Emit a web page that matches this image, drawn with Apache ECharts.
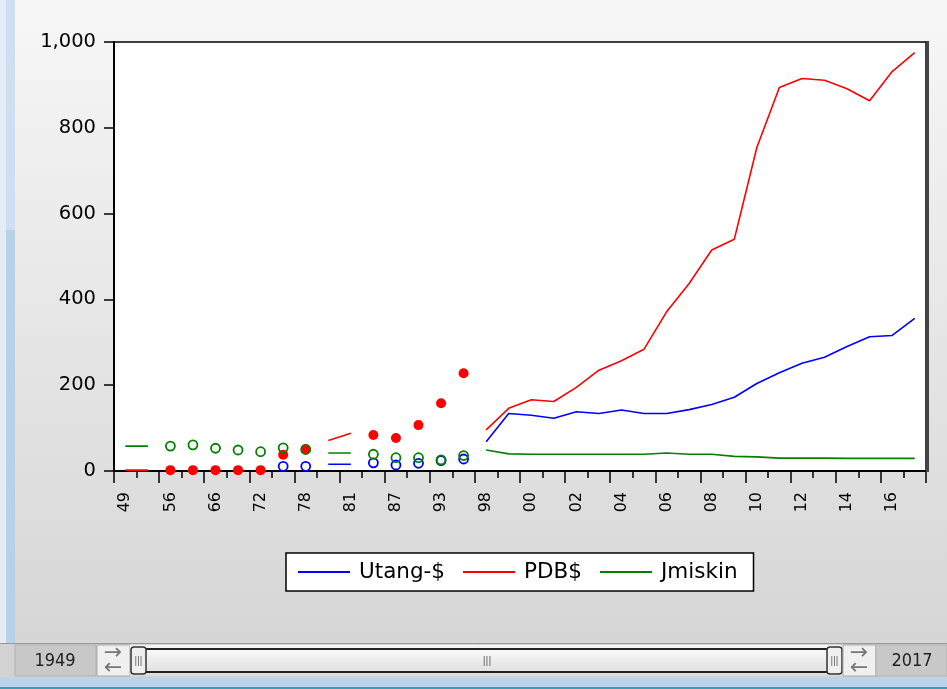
<!DOCTYPE html>
<html><head><meta charset="utf-8">
<script src="https://cdn.jsdelivr.net/npm/echarts@6/dist/echarts.min.js"></script>
<style>html,body{margin:0;padding:0;background:#fff}#c{width:947px;height:689px}</style>
</head><body><div id="c"></div>
<script>
// Observation identifiers (irregular early years, then annual 1998-2017)
const years = ['1949','1950','1956','1960','1966','1970','1972','1976','1978','1980','1981','1984','1987','1990','1993','1996',
  '1998','1999','2000','2001','2002','2003','2004','2005','2006','2007','2008','2009','2010','2011','2012','2013','2014','2015','2016','2017'];
const seriesNames = ['Utang-$', 'PDB$', 'Jmiskin'];
const utang = [null,null,null,null,null,null,null,11,11,15.6,15.6,19,14,18,24,28,
  68,134,130,123,138,134,142,134,134,143,155,172,204,229,251,265,290,313,316,356];
const pdb = [2,2,2,2,2,2,2,38,51,71,88,84,77,107,158,228,
  96,146,166,162,195,235,257,284,371,437,515,540,754,894,915,911,891,863,931,975];
const jmiskin = [58,58,58,61,53,49,45,54,50,42,42,39,31,31,26,36,
  49,40,39,39,39,39,39,39,42,39,39,34,33,30,30,30,29.5,29.5,29.5,29.5];
const yTicks = [0, 200, 400, 600, 800, 1000];

const colors = ['#0000FF', '#FF0000', '#008000'];
const values = [utang, pdb, jmiskin];

function runsOf(vals) {
  const out = []; let cur = [];
  for (let i = 0; i < vals.length; i++) {
    if (vals[i] == null) { if (cur.length) out.push(cur); cur = []; continue; }
    if (cur.length && +years[i] !== +years[cur[cur.length - 1]] + 1) { out.push(cur); cur = []; }
    cur.push(i);
  }
  if (cur.length) out.push(cur);
  return out;
}

const lineSeries = [], dotSeries = [];
values.forEach((vals, s) => {
  const rs = runsOf(vals);
  rs.filter(r => r.length > 1).forEach(r => {
    lineSeries.push({
      name: seriesNames[s], type: 'line', xAxisIndex: 0, symbol: 'none', silent: true,
      lineStyle: { color: colors[s], width: 1.6 }, itemStyle: { color: colors[s] },
      data: vals.map((v, i) => r.includes(i) ? v : null)
    });
  });
  const iso = rs.filter(r => r.length === 1).map(r => r[0]);
  const filled = s === 1;
  dotSeries.push({
    name: seriesNames[s] + ' (isolated)', type: 'line', xAxisIndex: 0, symbol: 'circle', showSymbol: true, showAllSymbol: true,
    symbolSize: filled ? 10 : 9, silent: true,
    lineStyle: { width: 0, opacity: 0 }, connectNulls: false,
    itemStyle: filled ? { color: colors[s], borderWidth: 0 } :
      { color: 'rgba(255,255,255,0)', borderColor: colors[s], borderWidth: 1.8 },
    data: vals.map((v, i) => iso.includes(i) ? v : null)
  });
});

const chart = echarts.init(document.getElementById('c'), null, { renderer: 'canvas' });
const font = 'DejaVu Sans';
chart.setOption({
  animation: false,
  backgroundColor: { type: 'linear', x: 0, y: 0, x2: 0, y2: 1,
    colorStops: [{ offset: 0, color: '#f7f7f7' }, { offset: 0.93, color: '#d6d6d6' }, { offset: 1, color: '#d6d6d6' }] },
  grid: { left: 114, right: 21, top: 42, bottom: 218, show: true, backgroundColor: '#fff', borderColor: '#000', borderWidth: 1.5 },
  legend: {
    data: seriesNames.map(n => ({ name: n, icon: 'rect' })), left: 286, top: 553, orient: 'horizontal',
    itemWidth: 52, itemHeight: 2, itemGap: 18, padding: [8, 16, 8, 12],
    backgroundColor: '#fff', borderColor: '#000', borderWidth: 1.5, borderRadius: 0,
    textStyle: { fontSize: 21.5, fontFamily: font, color: '#000', padding: [0, 0, 0, 4], lineHeight: 20 },
    selectedMode: false
  },
  xAxis: [
    { type: 'category', data: years, boundaryGap: true, position: 'bottom',
      axisLine: { show: true, lineStyle: { color: '#000', width: 2 } },
      axisTick: { show: true, interval: 0, length: 7, lineStyle: { color: '#000', width: 1.5 } },
      axisLabel: { show: false }, splitLine: { show: false } },
    { type: 'category', data: years, boundaryGap: true, position: 'bottom',
      axisLine: { show: false },
      axisTick: { show: true, interval: 1, length: 12, lineStyle: { color: '#000', width: 1.5 } },
      axisLabel: { show: true, interval: 1, rotate: 90, margin: 21, fontSize: 16, fontFamily: font, color: '#000',
        formatter: v => v.slice(2) },
      splitLine: { show: false } }
  ],
  yAxis: {
    type: 'value', min: yTicks[0], max: yTicks[yTicks.length - 1], interval: yTicks[1] - yTicks[0],
    axisLine: { show: true, lineStyle: { color: '#000', width: 2 } },
    axisTick: { show: true, length: 10, lineStyle: { color: '#000', width: 1.5 } },
    splitLine: { show: false },
    axisLabel: { margin: 18, fontSize: 19.5, fontFamily: font, color: '#000', formatter: v => v.toLocaleString('en-US') }
  },
  graphic: [
    // right frame shadow
    { type: 'rect', shape: { x: 926, y: 41, width: 3, height: 431 }, style: { fill: '#444' }, z: 10 },
    // left window strip
    { type: 'rect', shape: { x: 0, y: 0, width: 6, height: 643 }, style: { fill: '#e4ecf5' }, z: -10 },
    { type: 'rect', shape: { x: 6, y: 0, width: 9, height: 643 }, style: { fill: '#b9d0e9' }, z: -10 },
    { type: 'rect', shape: { x: 6, y: 0, width: 9, height: 230 }, style: { fill: '#cddff1' }, z: -10 },
    // bottom slider bar
    { type: 'rect', shape: { x: 0, y: 643, width: 947, height: 34 }, style: { fill: '#d2d2d2' } },
    { type: 'line', shape: { x1: 0, y1: 643.5, x2: 947, y2: 643.5 }, style: { stroke: '#9a9a9a', lineWidth: 1 } },
    { type: 'rect', shape: { x: 15, y: 645, width: 81, height: 31 }, style: { fill: '#c8c8c8', stroke: '#b0b0b0' } },
    { type: 'text', x: 55, y: 661, style: { text: '1949', fontSize: 18, fontFamily: 'DejaVu Sans Condensed', fill: '#222', align: 'center', verticalAlign: 'middle' } },
    { type: 'rect', shape: { x: 97, y: 645, width: 33, height: 31 }, style: { fill: '#f0f0f0', stroke: '#a8a8a8' } },
    { type: 'text', x: 113, y: 653, style: { text: '→', fontSize: 22, fontFamily: 'DejaVu Sans', fill: '#777', align: 'center', verticalAlign: 'middle' } },
    { type: 'text', x: 113, y: 668, style: { text: '←', fontSize: 22, fontFamily: 'DejaVu Sans', fill: '#777', align: 'center', verticalAlign: 'middle' } },
    { type: 'rect', shape: { x: 130, y: 645, width: 713, height: 31 },
      style: { fill: { type: 'linear', x: 0, y: 0, x2: 0, y2: 1, colorStops: [{ offset: 0, color: '#f5f5f5' }, { offset: 1, color: '#dcdcdc' }] } } },
    { type: 'rect', shape: { x: 138, y: 649, width: 697, height: 23 },
      style: { fill: { type: 'linear', x: 0, y: 0, x2: 0, y2: 1, colorStops: [{ offset: 0, color: '#fafafa' }, { offset: 1, color: '#e0e0e0' }] }, stroke: '#222', lineWidth: 2 } },
    { type: 'text', x: 487, y: 661, style: { text: '|||', fontSize: 11, fill: '#666', align: 'center', verticalAlign: 'middle' } },
    { type: 'rect', shape: { x: 131, y: 647, width: 15, height: 27, r: 3 }, style: { fill: '#efefef', stroke: '#333', lineWidth: 1.5 } },
    { type: 'text', x: 138.5, y: 661, style: { text: '|||', fontSize: 10, fill: '#666', align: 'center', verticalAlign: 'middle' } },
    { type: 'rect', shape: { x: 827, y: 647, width: 15, height: 27, r: 3 }, style: { fill: '#efefef', stroke: '#333', lineWidth: 1.5 } },
    { type: 'text', x: 834.5, y: 661, style: { text: '|||', fontSize: 10, fill: '#666', align: 'center', verticalAlign: 'middle' } },
    { type: 'rect', shape: { x: 843, y: 645, width: 33, height: 31 }, style: { fill: '#f0f0f0', stroke: '#a8a8a8' } },
    { type: 'text', x: 859, y: 653, style: { text: '→', fontSize: 22, fontFamily: 'DejaVu Sans', fill: '#777', align: 'center', verticalAlign: 'middle' } },
    { type: 'text', x: 859, y: 668, style: { text: '←', fontSize: 22, fontFamily: 'DejaVu Sans', fill: '#777', align: 'center', verticalAlign: 'middle' } },
    { type: 'rect', shape: { x: 876, y: 645, width: 71, height: 31 }, style: { fill: '#c8c8c8', stroke: '#b0b0b0' } },
    { type: 'text', x: 912, y: 661, style: { text: '2017', fontSize: 18, fontFamily: 'DejaVu Sans Condensed', fill: '#222', align: 'center', verticalAlign: 'middle' } },
    // bottom window strip
    { type: 'rect', shape: { x: 0, y: 677, width: 947, height: 12 }, style: { fill: '#bcd3eb' } },
    { type: 'rect', shape: { x: 0, y: 687, width: 947, height: 2 }, style: { fill: '#3a9fb5' } }
  ],
  series: lineSeries.concat(dotSeries)
});
</script>
</body></html>
